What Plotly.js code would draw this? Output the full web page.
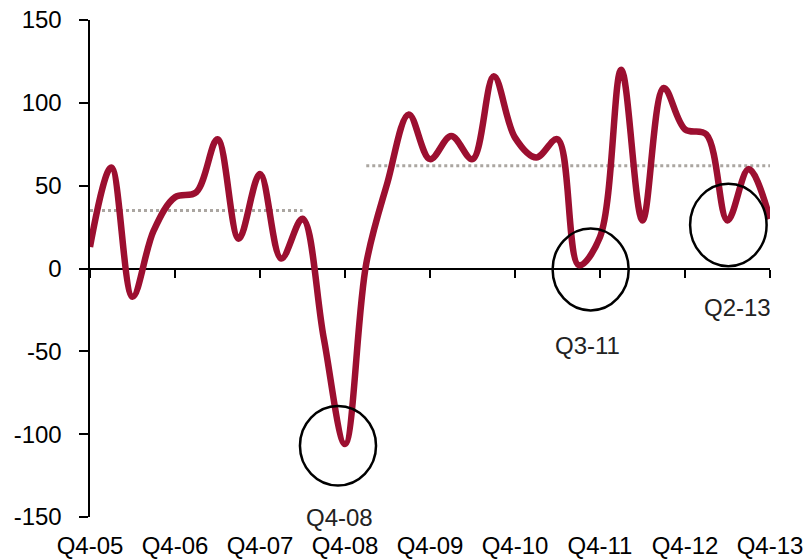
<!DOCTYPE html>
<html>
<head>
<meta charset="utf-8">
<script src="https://cdn.plot.ly/plotly-3.0.1.min.js"></script>
<style>html,body{margin:0;padding:0;background:#fff;}#chart{width:807px;height:560px;}</style>
</head>
<body>
<div id="chart"></div>
<script>
const quarters = [
  'Q4-05',
  'Q1-06','Q2-06','Q3-06','Q4-06',
  'Q1-07','Q2-07','Q3-07','Q4-07',
  'Q1-08','Q2-08','Q3-08','Q4-08',
  'Q1-09','Q2-09','Q3-09','Q4-09',
  'Q1-10','Q2-10','Q3-10','Q4-10',
  'Q1-11','Q2-11','Q3-11','Q4-11',
  'Q1-12','Q2-12','Q3-12','Q4-12',
  'Q1-13','Q2-13','Q3-13','Q4-13'
];
const values = [
  13,
  61, -17, 23, 43,
  46, 78, 18, 57,
  6, 30, -42, -106,
  3, 52, 93, 66,
  80, 66, 116, 79,
  67, 78, 2, 19,
  120, 29, 109, 84,
  81, 29, 60, 30
];
const tickLabels = ['Q4-05','Q4-06','Q4-07','Q4-08','Q4-09','Q4-10','Q4-11','Q4-12','Q4-13'];
const yTickVals = [-150, -100, -50, 0, 50, 100, 150];
const yTickText = ['-150', '-100', '-50', '0', '50', '100', '150'];

// period averages (dotted lines)
const avgPeriods = [
  {from: 'Q4-05', to: 'Q2-08', value: 35},
  {from: 'Q1-09', to: 'Q4-13', value: 62}
];

// callouts: circled quarters
const calloutLabels = ['Q4-08', 'Q3-11', 'Q2-13'];
const calloutCenterX = [11.67, 23.56, 30.04];
const calloutCenterY = [-107, -0.6, 26.3];
const calloutRadiusX = [1.79, 1.79, 1.80];
const calloutRadiusY = [24, 24.7, 24.9];
const calloutLabelX = [11.75, 23.4, 30.45];
const calloutLabelY = [-150, -46.5, -23.6];

const FONT = 'Liberation Sans, Arial, Helvetica, sans-serif';
const RED = '#9C0F30';

const traces = [];
avgPeriods.forEach(p => {
  traces.push({
    x: [p.from, p.to], y: [p.value, p.value],
    type: 'scatter', mode: 'lines',
    line: {color: '#aba6a1', width: 3, dash: 'dot'},
    hoverinfo: 'skip', showlegend: false, xaxis: 'x', yaxis: 'y'
  });
});
traces.push({
  x: quarters, y: values, type: 'scatter', mode: 'lines',
  line: {color: RED, width: 6.5, shape: 'spline', smoothing: 1},
  showlegend: false, xaxis: 'x', yaxis: 'y'
});
// carrier for the bottom tick-label axis
traces.push({
  x: quarters, y: values, type: 'scatter', mode: 'lines',
  line: {color: 'rgba(0,0,0,0)', width: 0},
  hoverinfo: 'skip', showlegend: false, xaxis: 'x2', yaxis: 'y'
});

const shapes = calloutLabels.map((_, i) => ({
  type: 'circle', xref: 'x', yref: 'y',
  x0: calloutCenterX[i] - calloutRadiusX[i], x1: calloutCenterX[i] + calloutRadiusX[i],
  y0: calloutCenterY[i] - calloutRadiusY[i], y1: calloutCenterY[i] + calloutRadiusY[i],
  line: {color: '#000', width: 2.5}, layer: 'above'
}));

const annotations = calloutLabels.map((t, i) => ({
  text: t, x: calloutLabelX[i], y: calloutLabelY[i], xref: 'x', yref: 'y',
  showarrow: false, xanchor: 'center', yanchor: 'middle',
  font: {family: FONT, size: 24, color: '#222'}
}));

const layout = {
  width: 807, height: 560,
  margin: {l: 90, r: 37, t: 20, b: 43, pad: 0},
  paper_bgcolor: '#fff', plot_bgcolor: '#fff',
  showlegend: false,
  font: {family: FONT, size: 24, color: '#000'},
  xaxis: {
    type: 'category', categoryorder: 'array', categoryarray: quarters,
    range: [0, 32], anchor: 'free', position: 0.5,
    showline: true, linecolor: '#000', linewidth: 2.5,
    ticks: 'outside', ticklen: 8, tickwidth: 2, tickcolor: '#000',
    tickvals: tickLabels, showticklabels: false,
    showgrid: false, zeroline: false, layer: 'below traces', fixedrange: true
  },
  xaxis2: {
    type: 'category', categoryorder: 'array', categoryarray: quarters,
    overlaying: 'x', matches: 'x', anchor: 'y', side: 'bottom',
    showline: false, ticks: '', tickvals: tickLabels, ticktext: tickLabels,
    tickfont: {family: FONT, size: 24, color: '#000'},
    ticklabelstandoff: 12,
    showgrid: false, zeroline: false
  },
  yaxis: {
    range: [-150, 150], tickvals: yTickVals, ticktext: yTickText,
    showline: true, linecolor: '#000', linewidth: 2.5,
    ticks: 'outside', ticklen: 9, tickwidth: 2, tickcolor: '#000',
    tickfont: {family: FONT, size: 24, color: '#000'},
    ticklabelstandoff: 12,
    showgrid: false, zeroline: false, fixedrange: true
  },
  shapes: shapes,
  annotations: annotations
};

Plotly.newPlot('chart', traces, layout, {displayModeBar: false, staticPlot: true});
</script>
</body>
</html>
